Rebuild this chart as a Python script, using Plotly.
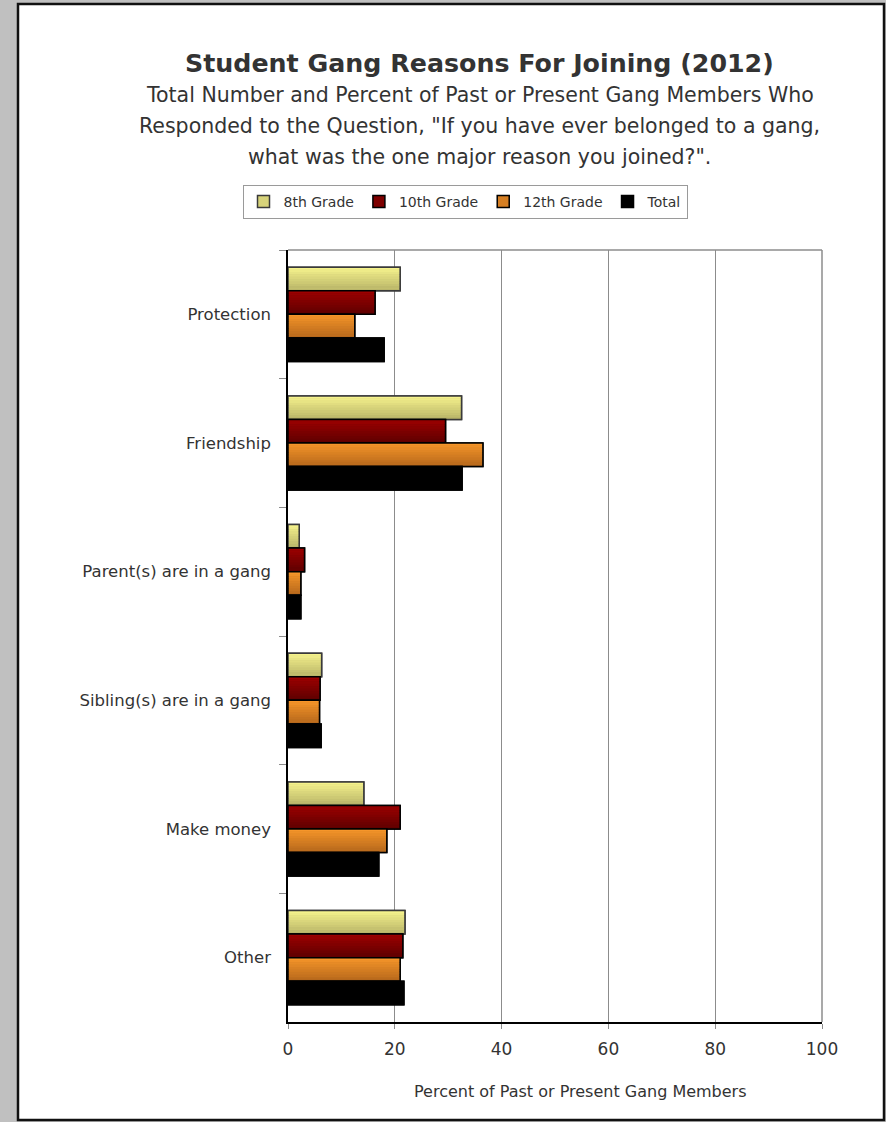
import plotly.graph_objects as go

# Survey categories and percentages by grade
reasons = ["Protection", "Friendship", "Parent(s) are in a gang",
           "Sibling(s) are in a gang", "Make money", "Other"]
grade8 = [21.0, 32.5, 2.1, 6.3, 14.2, 21.9]
grade10 = [16.3, 29.5, 3.1, 6.0, 21.0, 21.5]
grade12 = [12.5, 36.5, 2.4, 5.9, 18.5, 21.0]
total = [18.0, 32.6, 2.4, 6.2, 17.0, 21.7]
x_ticks = [0, 20, 40, 60, 80, 100]

series = [
    ("8th Grade", grade8, (245, 242, 140), (185, 181, 105), "#3a3a3a"),
    ("10th Grade", grade10, (156, 0, 0), (96, 0, 0), "#000000"),
    ("12th Grade", grade12, (246, 150, 42), (182, 104, 28), "#000000"),
    ("Total", total, (0, 0, 0), (0, 0, 0), "#000000"),
]

W, H = 886, 1122
L, R, T, B = 288, 822, 250, 1022


def px(xp):
    return (xp - L) / (R - L)


def py(yp):
    return (B - yp) / (B - T)


FONT = "DejaVu Sans"
TXT = "#333333"

bar_w = 0.183
n_slices = 10
group_start = -2 * bar_w

fig = go.Figure()
for k, (name, vals, top_c, bot_c, edge) in enumerate(series):
    off = group_start + k * bar_w
    mid = tuple(int((a + b) / 2) for a, b in zip(top_c, bot_c))
    # base bar, carries the legend swatch
    fig.add_trace(go.Bar(
        y=reasons, x=vals, orientation="h", name=name,
        offset=off, width=bar_w,
        marker=dict(color="rgb(%d,%d,%d)" % mid, line=dict(color=edge, width=1.5)),
        showlegend=True, hoverinfo="skip",
    ))
    # vertical shading: thin horizontal bands from light top to dark bottom
    sw = bar_w / n_slices
    for s in range(n_slices):
        t = s / (n_slices - 1)
        c = tuple(int(a + (b - a) * t) for a, b in zip(top_c, bot_c))
        fig.add_trace(go.Bar(
            y=reasons, x=vals, orientation="h",
            offset=off + s * sw, width=sw * 1.02,
            marker=dict(color="rgb(%d,%d,%d)" % c, line=dict(width=0)),
            showlegend=False, hoverinfo="skip",
        ))
    # outline on top
    fig.add_trace(go.Bar(
        y=reasons, x=vals, orientation="h",
        offset=off, width=bar_w,
        marker=dict(color="rgba(0,0,0,0)", line=dict(color=edge, width=1.5)),
        showlegend=False, hoverinfo="skip",
    ))

shapes = [
    # white page with dark frame
    dict(type="rect", xref="paper", yref="paper", layer="below",
         x0=px(18), x1=px(884), y0=py(1120), y1=py(4),
         fillcolor="white", line=dict(color="#111111", width=2.5)),
]

annotations = [
    dict(text="<b>Student Gang Reasons For Joining (2012)</b>",
         x=px(479.5), y=py(63), xref="paper", yref="paper",
         showarrow=False, xanchor="center", yanchor="middle",
         font=dict(family=FONT, size=25.3, color=TXT)),
]
sub_lines = ["Total Number and Percent of Past or Present Gang Members Who",
             "Responded to the Question, \"If you have ever belonged to a gang,",
             "what was the one major reason you joined?\"."]
for i, line in enumerate(sub_lines):
    annotations.append(dict(
        text=line, x=px(479.5), y=py(95 + 31 * i), xref="paper", yref="paper",
        showarrow=False, xanchor="center", yanchor="middle",
        font=dict(family=FONT, size=20.5, color=TXT)))
annotations.append(dict(
    text="Percent of Past or Present Gang Members",
    x=px(580), y=py(1091), xref="paper", yref="paper",
    showarrow=False, xanchor="center", yanchor="middle",
    font=dict(family=FONT, size=16, color=TXT)))

fig.update_layout(
    width=W, height=H,
    margin=dict(l=L, r=W - R, t=T, b=H - B, pad=0),
    paper_bgcolor="#c0c0c0", plot_bgcolor="white",
    barmode="overlay",
    font=dict(family=FONT, color=TXT),
    shapes=shapes, annotations=annotations,
    legend=dict(orientation="h", x=px(465), y=py(185), xanchor="center",
                yanchor="top", bgcolor="white", bordercolor="#9a9a9a",
                borderwidth=1, font=dict(family=FONT, size=14, color=TXT),
                itemwidth=30, traceorder="normal"),
    xaxis=dict(range=[0, 100], tickvals=x_ticks, showgrid=True,
               gridcolor="#8c8c8c", gridwidth=1, zeroline=False,
               showline=True, linecolor="#000000", linewidth=1.5,
               ticks="outside", ticklen=5, tickcolor="#8c8c8c",
               ticklabelstandoff=6,
               tickfont=dict(family=FONT, size=17, color=TXT), mirror=False),
    yaxis=dict(categoryorder="array", categoryarray=reasons,
               autorange="reversed", showgrid=False, zeroline=False,
               showline=True, linecolor="#000000", linewidth=1.5,
               ticks="outside", ticklen=7, tickcolor="#8c8c8c",
               tickson="boundaries", ticklabelstandoff=12,
               tickfont=dict(family=FONT, size=16.5, color=TXT)),
)
# gray frame on top and right sides of the plot area
fig.add_shape(type="line", xref="paper", yref="paper", x0=0, x1=1, y0=1, y1=1,
              line=dict(color="#8c8c8c", width=1.5))
fig.add_shape(type="line", xref="paper", yref="paper", x0=1, x1=1, y0=0, y1=1,
              line=dict(color="#8c8c8c", width=1.5))

fig.write_html("out.html")
